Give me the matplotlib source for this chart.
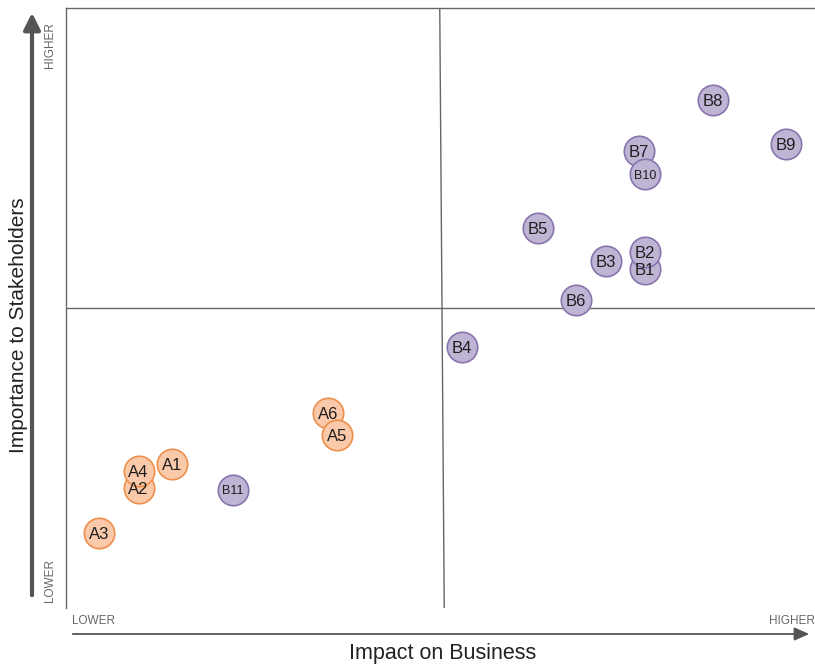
import matplotlib
matplotlib.use("Agg")
import matplotlib.pyplot as plt
from matplotlib.patches import FancyArrowPatch

plt.rcParams["font.family"] = ["Liberation Sans", "DejaVu Sans"]

# issue positions on a 0-10 scale (impact, importance)
labels = ["A3", "A2", "A4", "A1", "A6", "A5", "B11",
          "B4", "B6", "B3", "B1", "B2", "B5", "B7", "B10", "B8", "B9"]
impact = [0.44, 0.97, 0.97, 1.42, 3.50, 3.62, 2.23,
          5.29, 6.81, 7.21, 7.73, 7.73, 6.30, 7.65, 7.73, 8.64, 9.61]
importance = [1.25, 2.00, 2.28, 2.40, 3.25, 2.88, 1.97,
              4.35, 5.13, 5.78, 5.65, 5.93, 6.33, 7.62, 7.23, 8.47, 7.73]

ORANGE_FILL, ORANGE_EDGE = "#f9c9a9", "#ee8f4e"
PURPLE_FILL, PURPLE_EDGE = "#bfb4d4", "#8775ad"

fig = plt.figure(figsize=(8.15, 6.67), dpi=100)
W, H = 815, 667
ax = fig.add_axes([66 / W, (H - 608) / H, 749 / W, 600 / H])
ax.set_xlim(0, 10)
ax.set_ylim(0, 10)
ax.set_xticks([])
ax.set_yticks([])
for side in ("right", "bottom"):
    ax.spines[side].set_visible(False)
for side in ("left", "top"):
    ax.spines[side].set_color("#666666")
    ax.spines[side].set_linewidth(1.0)

# quadrant dividers
ax.plot([4.99, 5.05], [10, 0], color="#666666", lw=1.0, zorder=1)
ax.axhline(5.0, color="#666666", lw=1.0, zorder=1)

for lab, x, y in zip(labels, impact, importance):
    if lab.startswith("A"):
        fc, ec = ORANGE_FILL, ORANGE_EDGE
    else:
        fc, ec = PURPLE_FILL, PURPLE_EDGE
    ax.scatter(x, y, s=480, facecolor=fc, edgecolor=ec, linewidth=1.2, zorder=3)
    fs = 9 if len(lab) > 2 else 12
    ax.text(x, y, lab, ha="center", va="center_baseline", fontsize=fs,
            color="#1e1e1e", zorder=4, clip_on=False)

# axis arrows
fig.add_artist(FancyArrowPatch((32 / W, (H - 598) / H), (32 / W, (H - 10) / H),
                               transform=fig.transFigure,
                               arrowstyle="-|>,head_length=10,head_width=5",
                               color="#555555", lw=3, mutation_scale=1))
fig.add_artist(FancyArrowPatch((70 / W, (H - 634) / H), (812 / W, (H - 634) / H),
                               transform=fig.transFigure,
                               arrowstyle="-|>,head_length=9,head_width=4",
                               color="#555555", lw=1.3, mutation_scale=1))

fig.text(443 / W, (H - 654) / H, "Impact on Business", ha="center", va="center",
         fontsize=15.5, color="#222222")
fig.text(19 / W, (H - 325) / H, "Importance to Stakeholders", ha="center", va="center",
         rotation=90, fontsize=15, color="#222222")

grey = "#666666"
fig.text(50 / W, (H - 45) / H, "HIGHER", rotation=90, ha="center", va="center",
         fontsize=8.5, color=grey)
fig.text(50 / W, (H - 581) / H, "LOWER", rotation=90, ha="center", va="center",
         fontsize=8.5, color=grey)
fig.text(72 / W, (H - 621) / H, "LOWER", ha="left", va="center", fontsize=8.5, color=grey)
fig.text(769 / W, (H - 621) / H, "HIGHER", ha="left", va="center", fontsize=8.5, color=grey)

fig.savefig("out.png", dpi=100)
